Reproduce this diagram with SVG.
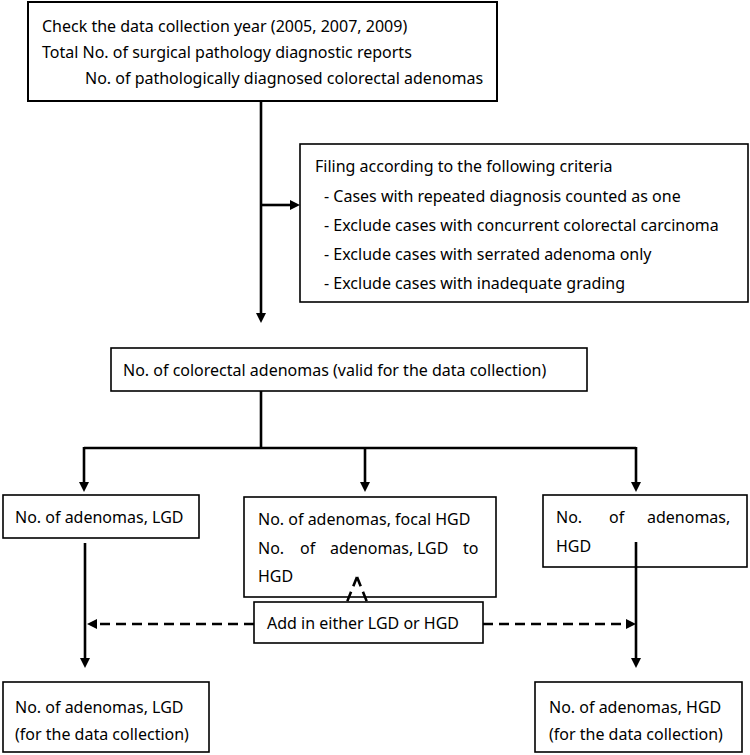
<svg xmlns="http://www.w3.org/2000/svg" width="750" height="755" viewBox="0 0 750 755">
<style>
  .box { fill: #fff; stroke: #000; stroke-width: 1.6; }
  .t { font-family: "Malgun Gothic", "Noto Sans", "Liberation Sans", sans-serif; font-size: 16px; fill: #000; }
  .c { stroke: #000; stroke-width: 2.6; fill: none; }
  .d { stroke: #000; stroke-width: 2.6; fill: none; stroke-dasharray: 10 6; }
</style>
<defs>
  <marker id="ah" markerUnits="userSpaceOnUse" markerWidth="11" markerHeight="10" refX="2" refY="5" orient="auto">
    <path d="M0,0 L10,5 L0,10 z" fill="#000"/>
  </marker>
</defs>

<g id="node-check">
  <rect class="box" x="28" y="2" width="469" height="99" style="stroke-width:2"/>
  <text class="t" x="42" y="32">Check the data collection year (2005, 2007, 2009)</text>
  <text class="t" x="42" y="58">Total No. of surgical pathology diagnostic reports</text>
  <text class="t" x="85" y="84">No. of pathologically diagnosed colorectal adenomas</text>
</g>

<g id="node-filing">
  <rect class="box" x="300" y="144" width="448" height="158"/>
  <text class="t" x="315" y="172">Filing according to the following criteria</text>
  <text class="t" x="324" y="202">- Cases with repeated diagnosis counted as one</text>
  <text class="t" x="324" y="231">- Exclude cases with concurrent colorectal carcinoma</text>
  <text class="t" x="324" y="260">- Exclude cases with serrated adenoma only</text>
  <text class="t" x="324" y="289">- Exclude cases with inadequate grading</text>
</g>

<g id="node-valid">
  <rect class="box" x="111" y="348" width="476" height="43"/>
  <text class="t" x="123" y="376">No. of colorectal adenomas (valid for the data collection)</text>
</g>

<g id="node-lgd">
  <rect class="box" x="3" y="495" width="196" height="43"/>
  <text class="t" x="15" y="523">No. of adenomas, LGD</text>
</g>

<g id="node-focal">
  <rect class="box" x="244" y="497" width="252" height="100"/>
  <text class="t" x="258" y="525">No. of adenomas, focal HGD</text>
  <text class="t" y="554"><tspan x="258">No.</tspan><tspan x="300">of</tspan><tspan x="330">adenomas,</tspan><tspan x="417">LGD</tspan><tspan x="463">to</tspan></text>
  <text class="t" x="258" y="582">HGD</text>
</g>

<g id="node-hgd">
  <rect class="box" x="543" y="495" width="204" height="72"/>
  <text class="t" y="523"><tspan x="556">No.</tspan><tspan x="609">of</tspan><tspan x="647">adenomas,</tspan></text>
  <text class="t" x="556" y="552">HGD</text>
</g>

<g id="node-add">
  <rect class="box" x="254" y="602" width="229" height="41"/>
  <text class="t" x="267" y="629">Add in either LGD or HGD</text>
</g>

<g id="node-lgd-final">
  <rect class="box" x="3" y="682" width="206" height="70"/>
  <text class="t" x="15" y="713">No. of adenomas, LGD</text>
  <text class="t" x="15" y="740">(for the data collection)</text>
</g>

<g id="node-hgd-final">
  <rect class="box" x="535" y="682" width="207" height="70"/>
  <text class="t" x="549" y="713">No. of adenomas, HGD</text>
  <text class="t" x="549" y="740">(for the data collection)</text>
</g>

<g id="connectors">
  <line class="c" x1="261" y1="101" x2="261" y2="315" marker-end="url(#ah)"/>
  <line class="c" x1="261" y1="205" x2="292" y2="205" marker-end="url(#ah)"/>
  <line class="c" x1="261" y1="391" x2="261" y2="448"/>
  <line class="c" x1="84" y1="448" x2="636" y2="448"/>
  <line class="c" x1="84" y1="447" x2="84" y2="484" marker-end="url(#ah)"/>
  <line class="c" x1="365" y1="447" x2="365" y2="484" marker-end="url(#ah)"/>
  <line class="c" x1="636" y1="447" x2="636" y2="484" marker-end="url(#ah)"/>
  <line class="c" x1="85" y1="543" x2="85" y2="660" marker-end="url(#ah)"/>
  <line class="c" x1="636" y1="542" x2="636" y2="660" marker-end="url(#ah)"/>
  <line class="d" x1="254" y1="624" x2="95" y2="624" marker-end="url(#ah)"/>
  <line class="d" x1="483" y1="624" x2="628" y2="624" marker-end="url(#ah)"/>
  <line class="d" x1="357" y1="577" x2="347" y2="602"/>
  <line class="d" x1="357" y1="577" x2="367" y2="602"/>
</g>
</svg>
